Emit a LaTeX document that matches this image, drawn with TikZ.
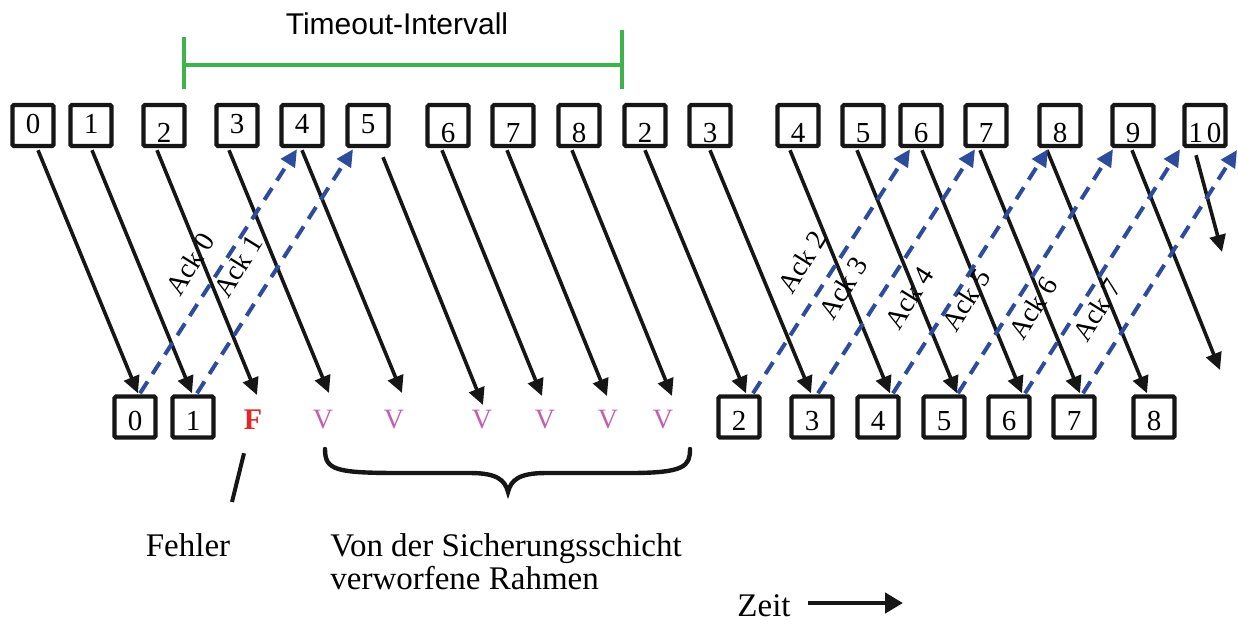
\documentclass[tikz,border=0pt]{standalone}
\usepackage{fontspec}
\setmainfont{Liberation Serif}
\newfontfamily\helv{Liberation Sans}
\usetikzlibrary{arrows.meta,calc}
\definecolor{ackblue}{RGB}{46,76,156}
\definecolor{tgreen}{RGB}{60,180,75}
\definecolor{vpink}{RGB}{195,95,175}
\definecolor{fred}{RGB}{225,40,40}
\definecolor{ink}{RGB}{22,22,22}
\begin{document}
\begin{tikzpicture}[x=0.5pt,y=-0.5pt,
  frame/.style={draw=ink, line width=2.2pt, minimum width=20.5pt, minimum height=20.5pt,
    inner sep=0pt, rounded corners=0.8pt, font=\fontsize{14.5}{14.5}\selectfont},
  hi/.style={frame, text height=8pt, text depth=0pt},
  lo/.style={frame, text height=16.5pt, text depth=0pt},
  bot/.style={frame, text height=13.5pt, text depth=0pt},
  vmark/.style={inner sep=0pt, text=vpink, font=\fontsize{14}{14}\selectfont},
  blk/.style={draw=ink, line width=1.8pt, -{Triangle[length=8.5pt,width=8pt]}},
  ack/.style={draw=ackblue, line width=2pt, dash pattern=on 7pt off 4.5pt,
    -{Triangle[length=8.5pt,width=8pt]}},
  acklbl/.style={rotate=58, inner sep=0pt, font=\fontsize{14}{14}\selectfont},
  txt/.style={inner sep=0pt, font=\fontsize{16.5}{16.5}\selectfont}
]
\useasboundingbox (0,0) rectangle (1238,623);

% timeout interval
\node[inner sep=0pt, font=\helv\fontsize{15}{15}\selectfont] (timeout) at (397,24) {Timeout-Intervall};
\coordinate (gL) at (184,65);
\coordinate (gR) at (622,65);
\draw[tgreen, line width=1.6pt] (gL) -- (gR);
\draw[tgreen, line width=2pt] ($(gL)+(0,-28)$) -- ($(gL)+(0,24)$);
\draw[tgreen, line width=2pt] ($(gR)+(0,-35)$) -- ($(gR)+(0,24)$);

% top row (sender)
\node[hi] (t0) at (33,125.5) {0};
\node[hi] (t1) at (91,125.5) {1};
\node[lo] (t2) at (164,125.5) {2};
\node[hi] (t3) at (237,125.5) {3};
\node[hi] (t4) at (302,125.5) {4};
\node[hi] (t5) at (368,125.5) {5};
\node[lo] (t6) at (448,125.5) {6};
\node[lo] (t7) at (513,125.5) {7};
\node[lo] (t8) at (579,125.5) {8};
\node[lo] (t9) at (645,125.5) {2};
\node[lo] (t10) at (710,125.5) {3};
\node[lo] (t11) at (798,125.5) {4};
\node[lo] (t12) at (863,125.5) {5};
\node[lo] (t13) at (921,125.5) {6};
\node[lo] (t14) at (986,125.5) {7};
\node[lo] (t15) at (1060,125.5) {8};
\node[lo] (t16) at (1133,125.5) {9};
\node[lo] (t17) at (1205,125.5) {1\hspace{2pt}0};

% bottom row (receiver)
\node[bot] (b0) at (135,417) {0};
\node[bot] (b1) at (193,417) {1};
\node[inner sep=0pt, text=fred, font=\bfseries\fontsize{15}{15}\selectfont] (F) at (253,420) {F};
\node[vmark] (v1) at (323,420) {V};
\node[vmark] (v2) at (394,420) {V};
\node[vmark] (v3) at (482,420) {V};
\node[vmark] (v4) at (545,420) {V};
\node[vmark] (v5) at (608,420) {V};
\node[vmark] (v6) at (663,420) {V};
\node[bot] (b2) at (739,417) {2};
\node[bot] (b3) at (812,417) {3};
\node[bot] (b4) at (878,417) {4};
\node[bot] (b5) at (944,417) {5};
\node[bot] (b6) at (1009,417) {6};
\node[bot] (b7) at (1074,417) {7};
\node[bot] (b8) at (1154,417) {8};

\coordinate (e16) at (1220,370);
\coordinate (e17) at (1222,252);
\coordinate (a7) at (1237,150);

% data frames
\draw[blk] ($(t0.south)+(5,2)$) -- ($(b0.north)+(3,-1)$);
\draw[blk] ($(t1.south)+(1,2)$) -- ($(b1.north)+(-1,-1)$);
\draw[blk] ($(t2.south)+(-7,2)$) -- ($(F.center)+(4,-25)$);
\draw[blk] ($(t3.south)+(-8,2)$) -- ($(v1.center)+(6,-27)$);
\draw[blk] ($(t4.south)+(0,2)$) -- ($(v2.center)+(8,-27)$);
\draw[blk] ($(t5.south)+(15,9)$) -- ($(v3.center)+(1,-15)$);
\draw[blk] ($(t6.south)+(-6,2)$) -- ($(v4.center)+(-3,-24)$);
\draw[blk] ($(t7.south)+(-6,2)$) -- ($(v5.center)+(-1,-24)$);
\draw[blk] ($(t8.south)+(-7,2)$) -- ($(v6.center)+(9,-24)$);
\draw[blk] ($(t9.south)+(0,2)$) -- ($(b2.north)+(7,-1)$);
\draw[blk] ($(t10.south)+(0,2)$) -- ($(b3.north)+(-1,-1)$);
\draw[blk] ($(t11.south)+(-8,2)$) -- ($(b4.north)+(12,-1)$);
\draw[blk] ($(t12.south)+(-6,2)$) -- ($(b5.north)+(13,-1)$);
\draw[blk] ($(t13.south)+(1,2)$) -- ($(b6.north)+(13,-1)$);
\draw[blk] ($(t14.south)+(-6,2)$) -- ($(b7.north)+(6,-1)$);
\draw[blk] ($(t15.south)+(-13,2)$) -- ($(b8.north)+(-7,-1)$);
\draw[blk] ($(t16.south)+(-1,2)$) -- (e16);
\draw[blk] ($(t17.south)+(-9,7)$) -- (e17);

% acknowledgements
\draw[ack] ($(b0.north)+(5,-1)$) -- ($(t4.south)+(-5,1)$);
\draw[ack] ($(b1.north)+(4,-1)$) -- ($(t5.south)+(-15,1)$);
\draw[ack] ($(b2.north)+(14,-1)$) -- ($(t13.south)+(-11,1)$);
\draw[ack] ($(b3.north)+(6,-1)$) -- ($(t14.south)+(-11,1)$);
\draw[ack] ($(b4.north)+(15,-1)$) -- ($(t15.south)+(-12,1)$);
\draw[ack] ($(b5.north)+(14,-1)$) -- ($(t16.south)+(-20,1)$);
\draw[ack] ($(b6.north)+(16,-1)$) -- ($(t17.south)+(-25,1)$);
\draw[ack] ($(b7.north)+(9,-1)$) -- (a7);

\node[acklbl] (l0) at (190,264) {Ack 0};
\node[acklbl] (l1) at (238,266) {Ack 1};
\node[acklbl] (l2) at (802,262) {Ack 2};
\node[acklbl] (l3) at (843,288) {Ack 3};
\node[acklbl] (l4) at (909,298) {Ack 4};
\node[acklbl] (l5) at (966,300) {Ack 5};
\node[acklbl] (l6) at (1033,308) {Ack 6};
\node[acklbl] (l7) at (1097,310) {Ack 7};

% error annotation
\node[txt] (fehler) at (188,545) {Fehler};
\draw[draw=ink, line width=2pt] ($(F.south)+(-9,23)$) -- ($(fehler.north)+(44,-31)$);

% brace
\draw[draw=ink, line width=2.2pt, line cap=round]
  (325,449) .. controls (325,470) and (335,473) .. (400,473) -- (470,473)
  .. controls (497,473) and (505,480) .. (508,492)
  .. controls (511,480) and (519,473) .. (546,473) -- (630,473)
  .. controls (685,473) and (690,466) .. (690,449);
\node[txt, anchor=north west, align=left] (discard) at (330,533.4) {Von der Sicherungsschicht\\verworfene Rahmen};

% time axis
\node[txt] (zeit) at (764,606) {Zeit};
\coordinate (zeitend) at (903,603);
\draw[draw=ink, line width=2.2pt, -{Triangle[length=9pt,width=10pt]}] ($(zeit.east)+(17,-3)$) -- (zeitend);
\end{tikzpicture}
\end{document}
